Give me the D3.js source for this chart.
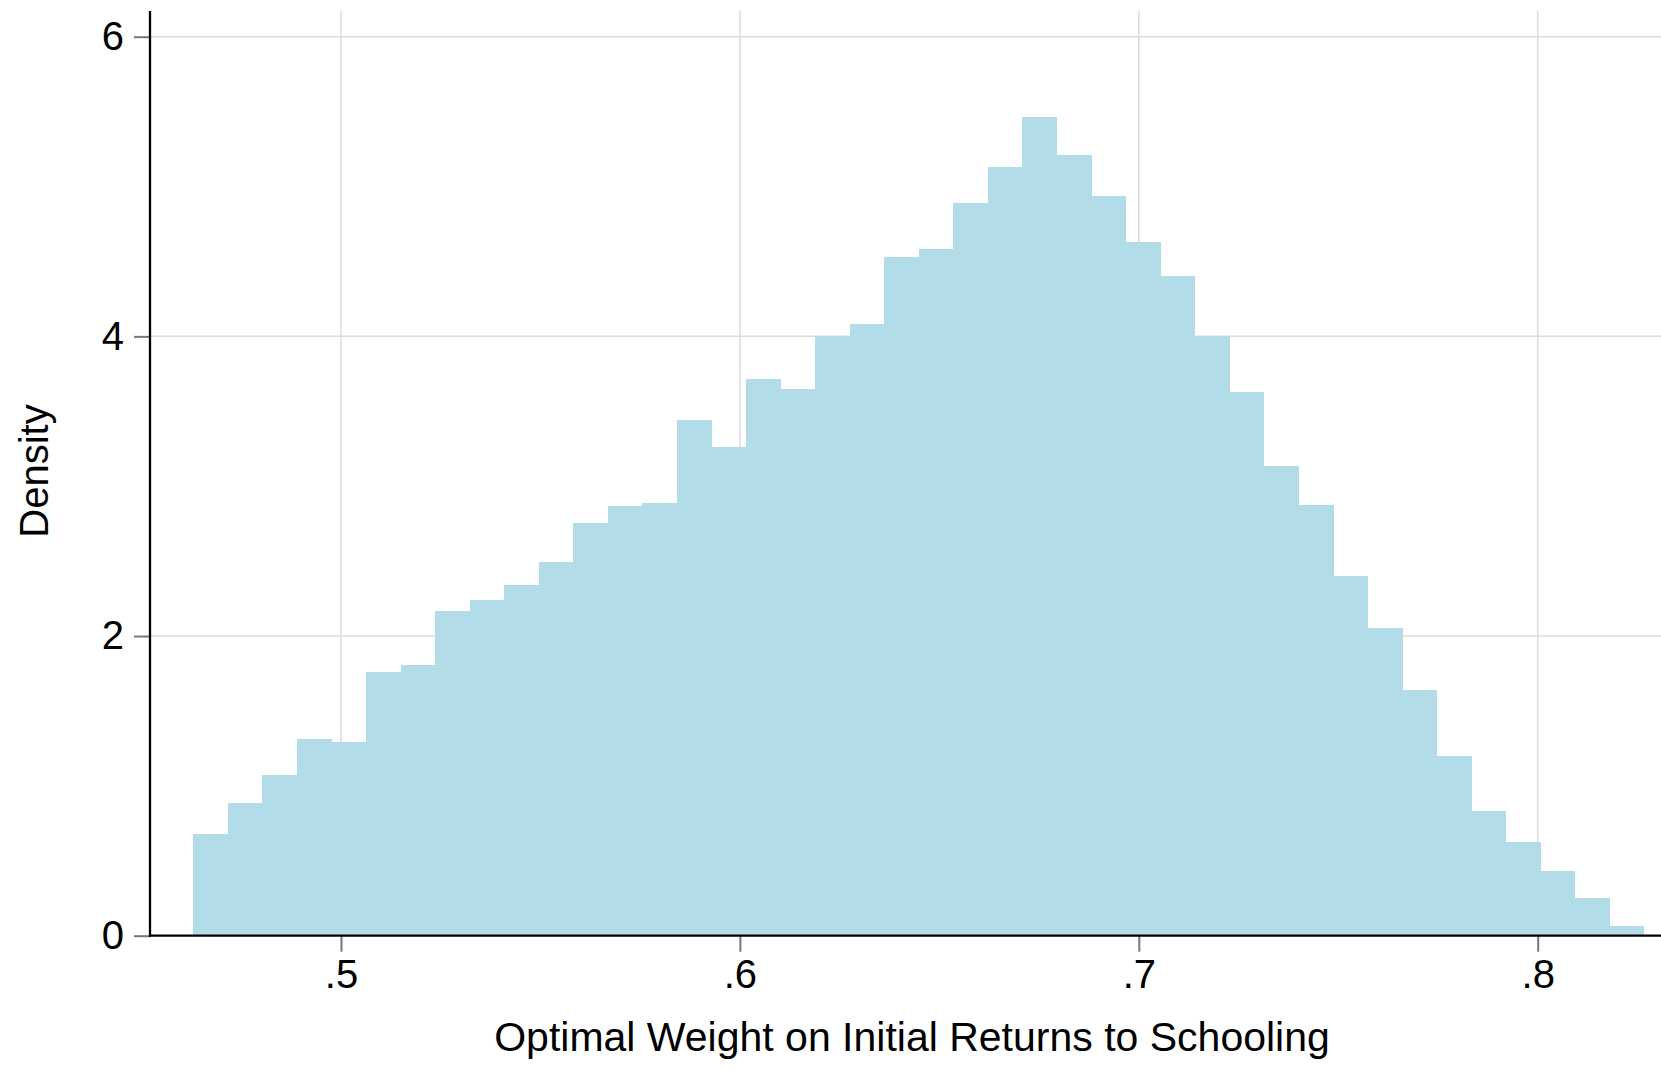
<!DOCTYPE html>
<html>
<head>
<meta charset="utf-8">
<script src="https://cdn.jsdelivr.net/npm/d3@7/dist/d3.min.js"></script>
<style>
  html, body { margin: 0; padding: 0; background: #fff; }
  svg { display: block; }
  text { font-family: "Liberation Sans", Arial, sans-serif; fill: #000; }
</style>
</head>
<body>
<svg id="chart" width="1661" height="1071"></svg>
<script>
// ---- data ----
const binStart = 0.46297;
const binWidth = 0.008659;
const densities = [
  0.679, 0.886, 1.075, 1.313, 1.293, 1.760, 1.807, 2.167, 2.241, 2.341,
  2.496, 2.756, 2.868, 2.888, 3.442, 3.262, 3.714, 3.646, 4.003, 4.085,
  4.530, 4.583, 4.890, 5.130, 5.464, 5.210, 4.937, 4.630, 4.403, 4.003,
  3.629, 3.135, 2.874, 2.401, 2.054, 1.640, 1.199, 0.832, 0.625, 0.432,
  0.252, 0.065
];
const xTicks = [0.5, 0.6, 0.7, 0.8];
const xTickLabels = [".5", ".6", ".7", ".8"];
const yTicks = [0, 2, 4, 6];
const yTickLabels = ["0", "2", "4", "6"];
const xTitle = "Optimal Weight on Initial Returns to Schooling";
const yTitle = "Density";

(function () {
const bins = densities.map((d, i) => ({
  x0: binStart + i * binWidth,
  x1: binStart + (i + 1) * binWidth,
  d: d
}));

// ---- layout ----
const svg = d3.select("#chart");
const pLeft = 150, pRight = 1661, pTop = 11, pBottom = 935.7;
const x = d3.scaleLinear().domain([0.5, 0.8]).range([341, 1537.7]);
const y = d3.scaleLinear().domain([0, 6]).range([935.7, 36.7]);

// gridlines
const grid = svg.append("g");
grid.selectAll("line.h").data(yTicks.filter(t => t > 0)).join("line")
  .attr("class", "h")
  .attr("x1", pLeft).attr("x2", pRight)
  .attr("y1", d => y(d)).attr("y2", d => y(d))
  .attr("stroke", "#dcdcdc").attr("stroke-width", 1.5);
grid.selectAll("line.v").data(xTicks).join("line")
  .attr("class", "v")
  .attr("x1", d => x(d)).attr("x2", d => x(d))
  .attr("y1", pTop).attr("y2", pBottom)
  .attr("stroke", "#dcdcdc").attr("stroke-width", 1.5);

// bars
svg.append("g").selectAll("rect").data(bins).join("rect")
  .attr("x", d => x(d.x0))
  .attr("width", d => x(d.x1) - x(d.x0) + 0.4)
  .attr("y", d => y(d.d))
  .attr("height", d => y(0) - y(d.d))
  .attr("fill", "#b3dce9")
  .attr("shape-rendering", "crispEdges");

// y axis
const yAxis = d3.axisLeft(y).tickValues(yTicks)
  .tickFormat((d, i) => yTickLabels[i]).tickSize(16).tickPadding(10);
const gy = svg.append("g").attr("transform", `translate(${pLeft},0)`).call(yAxis);
gy.select(".domain").remove();
gy.selectAll(".tick line").attr("stroke", "#777").attr("stroke-width", 2);
gy.selectAll(".tick text").attr("font-size", 40)
  .attr("font-family", "Liberation Sans, Arial, sans-serif").attr("fill", "#000");

// x axis
const xAxis = d3.axisBottom(x).tickValues(xTicks)
  .tickFormat((d, i) => xTickLabels[i]).tickSize(16).tickPadding(8);
const gx = svg.append("g").attr("transform", `translate(0,${pBottom})`).call(xAxis);
gx.select(".domain").remove();
gx.selectAll(".tick line").attr("stroke", "#777").attr("stroke-width", 2);
gx.selectAll(".tick text").attr("font-size", 40)
  .attr("font-family", "Liberation Sans, Arial, sans-serif").attr("fill", "#000");

// axis lines
svg.append("line").attr("x1", pLeft).attr("x2", pLeft).attr("y1", pTop).attr("y2", pBottom + 1)
  .attr("stroke", "#000").attr("stroke-width", 2.3);
svg.append("line").attr("x1", pLeft - 1).attr("x2", pRight).attr("y1", pBottom).attr("y2", pBottom)
  .attr("stroke", "#000").attr("stroke-width", 2.3);

// titles
svg.append("text").attr("x", 912).attr("y", 1051)
  .attr("text-anchor", "middle").attr("font-size", 41).text(xTitle);
svg.append("text").attr("transform", "translate(48,471) rotate(-90)")
  .attr("text-anchor", "middle").attr("font-size", 40).text(yTitle);
})();
</script>
</body>
</html>
